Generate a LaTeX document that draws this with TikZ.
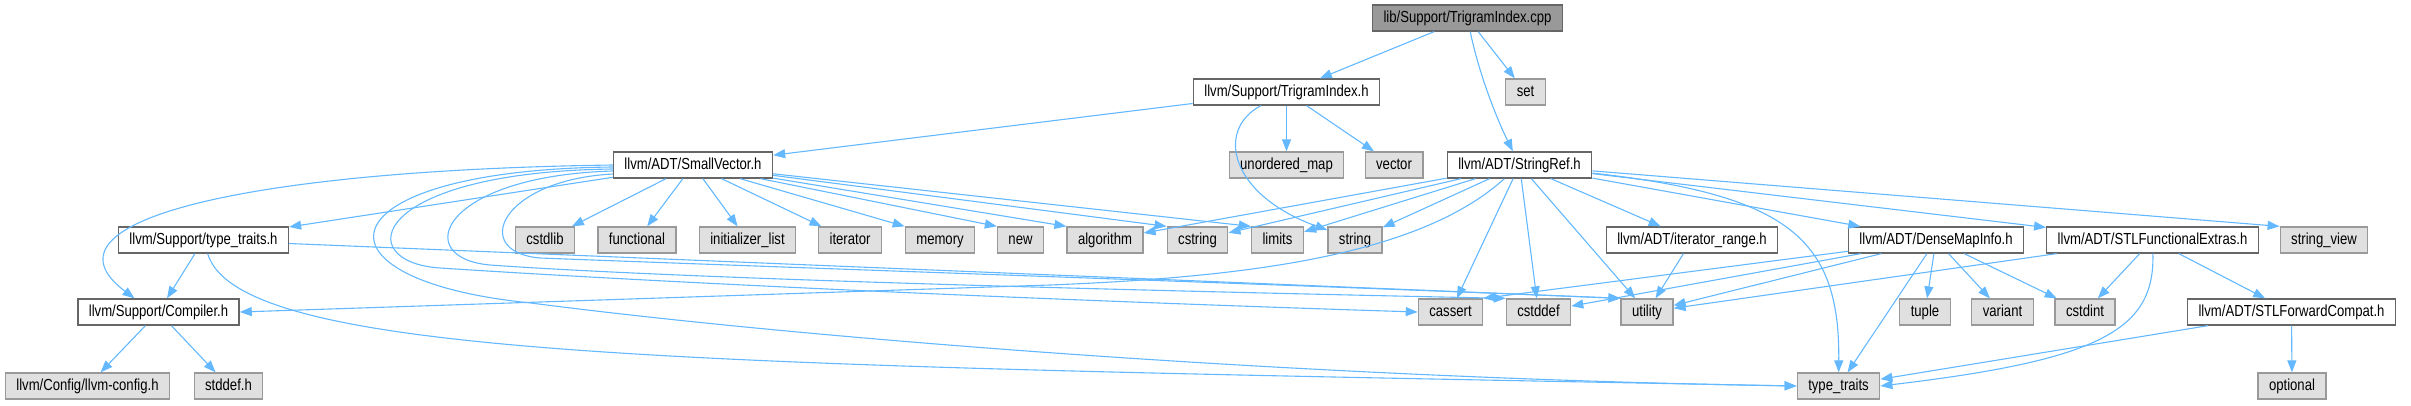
\documentclass[tikz,border=0pt]{standalone}
\usepackage{fontspec}
\setmainfont{Liberation Sans}[FakeStretch=0.82]
\usepackage{tikz}
\usetikzlibrary{arrows.meta}
\definecolor{edgeblue}{HTML}{63B8FF}
\definecolor{rootfill}{HTML}{999999}
\definecolor{sysfill}{HTML}{E0E0E0}
\definecolor{sysline}{HTML}{999999}
\definecolor{boxline}{HTML}{666666}

\begin{document}
\begin{tikzpicture}[x=1pt, y=-1pt,
  box/.style={draw=boxline, fill=white, line width=1.3pt, minimum height=26pt, inner xsep=11pt, inner ysep=0pt,
    text height=11.5pt, text depth=3pt, font=\fontsize{16}{18}\selectfont},
  sys/.style={box, draw=sysline, fill=sysfill},
  root/.style={box, fill=rootfill},
  arr/.style={-{Triangle[length=12pt,width=9pt]}, draw=edgeblue, line width=1.1pt},
]
  \useasboundingbox (0,0) rectangle (2411,405);

  \node[root] (cpp) at (1467.5,18) {lib/Support/TrigramIndex.cpp};
  \node[box] (trih) at (1286.5,92) {llvm/Support/TrigramIndex.h};
  \node[sys] (set) at (1525.5,92) {set};
  \node[box] (smallvec) at (693,165) {llvm/ADT/SmallVector.h};
  \node[sys] (umap) at (1286.5,165) {unordered\_map};
  \node[sys] (vector) at (1394,165) {vector};
  \node[box] (strref) at (1519.5,165) {llvm/ADT/StringRef.h};

  \node[box] (suptt) at (203.5,240) {llvm/Support/type\_traits.h};
  \node[sys] (cstdlib) at (545,240) {cstdlib};
  \node[sys] (functional) at (637,240) {functional};
  \node[sys] (initlist) at (747.5,240) {initializer\_list};
  \node[sys] (iterator) at (850,240) {iterator};
  \node[sys] (memory) at (940,240) {memory};
  \node[sys] (new) at (1020.5,240) {new};
  \node[sys] (algorithm) at (1105,240) {algorithm};
  \node[sys] (cstring) at (1197.5,240) {cstring};
  \node[sys] (limits) at (1277.5,240) {limits};
  \node[sys] (string) at (1355,240) {string};
  \node[box] (itrange) at (1692,240) {llvm/ADT/iterator\_range.h};
  \node[box] (densemap) at (1936,240) {llvm/ADT/DenseMapInfo.h};
  \node[box] (stlfunc) at (2152.5,240) {llvm/ADT/STLFunctionalExtras.h};
  \node[sys] (strview) at (2324,240) {string\_view};

  \node[box] (compiler) at (158.5,312) {llvm/Support/Compiler.h};
  \node[sys] (cassert) at (1450.5,312) {cassert};
  \node[sys] (cstddef) at (1538.5,312) {cstddef};
  \node[sys] (utility) at (1647,312) {utility};
  \node[sys] (tuple) at (1925,312) {tuple};
  \node[sys] (variant) at (2002.5,312) {variant};
  \node[sys] (cstdint) at (2085,312) {cstdint};
  \node[box] (fwdcompat) at (2291.5,312) {llvm/ADT/STLForwardCompat.h};

  \node[sys] (llvmcfg) at (87.5,386) {llvm/Config/llvm-config.h};
  \node[sys] (stddef) at (228.5,386) {stddef.h};
  \node[sys] (typetraits) at (1838.5,386) {type\_traits};
  \node[sys] (optional) at (2292,386) {optional};

  % TrigramIndex.cpp and TrigramIndex.h
  \draw[arr] (cpp) -- (trih);
  \draw[arr] (cpp) .. controls (1478,70) and (1495,115) .. (strref);
  \draw[arr] (cpp) -- (set);
  \draw[arr] (trih) -- (smallvec);
  \draw[arr] (trih) -- (umap);
  \draw[arr] (trih) -- (vector);
  \draw[arr] (trih) .. controls (1215,130) and (1230,195) .. (string);

  % SmallVector.h
  \draw[arr] (smallvec.west) .. controls (250,170) and (30,220) .. ([xshift=-24pt]compiler.north);
  \draw[arr] (smallvec) -- (suptt);
  \draw[arr] (smallvec) -- (cstdlib);
  \draw[arr] (smallvec) -- (functional);
  \draw[arr] (smallvec) -- (initlist);
  \draw[arr] (smallvec) -- (iterator);
  \draw[arr] (smallvec) -- (memory.north west);
  \draw[arr] (smallvec) -- (new.north west);
  \draw[arr] (smallvec) -- (algorithm.north west);
  \draw[arr] (smallvec) -- (cstring.north west);
  \draw[arr] (smallvec) -- (limits.north west);
  \draw[arr] ([yshift=-2pt]smallvec.west) .. controls (320,170) and (300,280) .. (531,303)
    .. controls (800,338) and (1300,378) .. (typetraits.west);
  \draw[arr] ([yshift=-4pt]smallvec.west) .. controls (370,172) and (350,262) .. (440,268)
    .. controls (700,285) and (1100,302) .. (cassert.west);
  \draw[arr] ([yshift=-6pt]smallvec.west) .. controls (440,176) and (410,258) .. (490,265)
    .. controls (700,280) and (1200,292) .. (cstddef.north west);
  \draw[arr] ([yshift=-9pt]smallvec.west) .. controls (500,180) and (470,252) .. (540,258)
    .. controls (800,268) and (1300,285) .. (utility.north west);

  % StringRef.h
  \draw[arr] (strref) -- (algorithm);
  \draw[arr] (strref) -- (cstring);
  \draw[arr] (strref) -- (limits);
  \draw[arr] (strref) -- (string);
  \draw[arr] (strref) .. controls (1420,255) and (1250,277) .. (1050,285) -- (compiler.east);
  \draw[arr] (strref) -- (cassert);
  \draw[arr] (strref) -- (cstddef);
  \draw[arr] (strref) -- (utility);
  \draw[arr] (strref) -- (itrange);
  \draw[arr] (strref) .. controls (1790,195) and (1840,240) .. (typetraits);
  \draw[arr] (strref) -- (densemap);
  \draw[arr] (strref) -- (stlfunc);
  \draw[arr] (strref) -- (strview.north west);

  % type_traits.h and Compiler.h
  \draw[arr] (suptt) -- (compiler);
  \draw[arr] (suptt) -- (utility.north west);
  \draw[arr] (suptt) .. controls (240,360) and (700,365) .. (typetraits.west);
  \draw[arr] (compiler) -- (llvmcfg);
  \draw[arr] (compiler) -- (stddef);

  % ADT headers
  \draw[arr] (itrange) -- (utility);
  \draw[arr] (densemap) -- (cassert.north east);
  \draw[arr] (densemap) -- (cstddef);
  \draw[arr] (densemap) -- (utility);
  \draw[arr] (densemap) -- (typetraits);
  \draw[arr] (densemap) -- (tuple);
  \draw[arr] (densemap) -- (variant);
  \draw[arr] (densemap) -- (cstdint);
  \draw[arr] (stlfunc) -- (utility);
  \draw[arr] (stlfunc) -- (cstdint);
  \draw[arr] (stlfunc) .. controls (2155,330) and (2100,360) .. (typetraits.east);
  \draw[arr] (stlfunc) -- (fwdcompat);
  \draw[arr] (fwdcompat) -- (typetraits);
  \draw[arr] (fwdcompat) -- (optional);
\end{tikzpicture}
\end{document}
